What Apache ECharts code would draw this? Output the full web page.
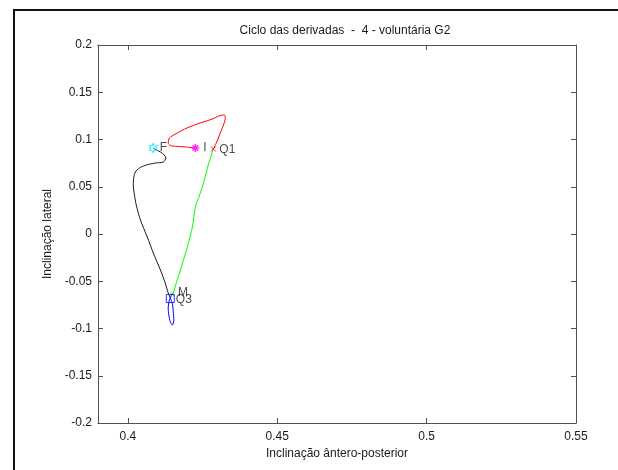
<!DOCTYPE html>
<html>
<head>
<meta charset="utf-8">
<script src="https://cdn.jsdelivr.net/npm/echarts@6/dist/echarts.min.js"></script>
<style>
  html, body { margin: 0; padding: 0; background: #fff; }
  #chart { width: 618px; height: 470px; }
</style>
</head>
<body>
<div id="chart"></div>
<script>
// Cycle segments (ântero-posterior, lateral)
const redPath = [
  [0.4226, 0.0910], [0.4192, 0.0921], [0.4160, 0.0928], [0.4143, 0.0935],
  [0.4135, 0.0963], [0.4139, 0.1016], [0.4159, 0.1058], [0.4198, 0.1122],
  [0.4242, 0.1175], [0.4283, 0.1217], [0.4309, 0.1254], [0.4323, 0.1259],
  [0.4326, 0.1228], [0.4320, 0.1153], [0.4309, 0.1069], [0.4299, 0.0984],
  [0.4286, 0.0899]
];
const greenPath = [
  [0.4286, 0.0899], [0.4269, 0.0730], [0.4253, 0.0540], [0.4239, 0.0402],
  [0.4226, 0.0286], [0.4216, 0.0074], [0.4199, -0.0138], [0.4186, -0.0275],
  [0.4176, -0.0381], [0.4162, -0.0519], [0.4152, -0.0624], [0.4149, -0.0635]
];
const bluePath = [
  [0.4149, -0.0635], [0.4145, -0.0656], [0.4139, -0.0698], [0.4135, -0.0783],
  [0.4137, -0.0857], [0.4142, -0.0931], [0.4149, -0.0963], [0.4154, -0.0910],
  [0.4152, -0.0825], [0.4149, -0.0741], [0.4142, -0.0677]
];
const blackPath = [
  [0.4142, -0.0677], [0.4135, -0.0624], [0.4125, -0.0519], [0.4109, -0.0381],
  [0.4085, -0.0201], [0.4065, -0.0032], [0.4042, 0.0148], [0.4028, 0.0307],
  [0.4022, 0.0413], [0.4018, 0.0519], [0.4020, 0.0603], [0.4025, 0.0656],
  [0.4038, 0.0698], [0.4062, 0.0730], [0.4092, 0.0751], [0.4119, 0.0762],
  [0.4127, 0.0804], [0.4122, 0.0836], [0.4109, 0.0868], [0.4095, 0.0889],
  [0.4085, 0.0910]
];

// Event points
const pointF  = [0.4085, 0.0910];
const pointI  = [0.4226, 0.0910];
const pointQ1 = [0.4286, 0.0899];
const pointM  = [0.4149, -0.0635];
const pointQ3 = [0.4142, -0.0683];

// Axis ticks
const xTicks = [0.4, 0.45, 0.5, 0.55];
const xMin = 0.39, xMax = 0.55;
const yMin = -0.2, yMax = 0.2, yStep = 0.05;

const FONT = 'Liberation Sans';
const TXT = '#1a1a1a';
const AX = '#505050';

const hexagram = 'path://M50 0L64.4 25L93.3 25L78.9 50L93.3 75L64.4 75L50 100L35.6 75L6.7 75L21.1 50L6.7 25L35.6 25Z';
const asterisk = 'path://M0 50L100 50M50 0L50 100M15 15L85 85M85 15L15 85';
const cross = 'path://M0 0L100 100M100 0L0 100';

function fmt(v) { return String(+v.toFixed(3)); }

function lineSeries(data, color) {
  return {
    type: 'line', data: data, showSymbol: false, smooth: 0.25,
    lineStyle: { color: color, width: 1 }, z: 2, animation: false
  };
}

function marker(pt, symbol, size, color, text, offset, bw) {
  return {
    type: 'scatter', data: [pt], symbol: symbol, symbolSize: size, symbolKeepAspect: true,
    itemStyle: { color: 'rgba(0,0,0,0)', borderColor: color, borderWidth: bw || 1 },
    label: {
      show: true, formatter: text, position: 'right', distance: 3,
      offset: offset || [0, 0],
      color: TXT, fontFamily: FONT, fontSize: 12
    },
    z: 5, animation: false
  };
}

const chart = echarts.init(document.getElementById('chart'), null, { renderer: 'canvas' });

const baseX = {
  type: 'value', min: xMin, max: xMax,
  axisLine: { show: true, onZero: false, lineStyle: { color: AX, width: 1 } },
  axisTick: { show: true, inside: true, length: 5, customValues: xTicks, lineStyle: { color: AX } },
  splitLine: { show: false }
};
const baseY = {
  type: 'value', min: yMin, max: yMax, interval: yStep,
  axisLine: { show: true, onZero: false, lineStyle: { color: AX, width: 1 } },
  axisTick: { show: true, inside: true, length: 5, lineStyle: { color: AX } },
  splitLine: { show: false }
};

chart.setOption({
  backgroundColor: '#fff',
  animation: false,
  title: {
    text: 'Ciclo das derivadas  -  4 - voluntária G2',
    left: 340, top: 20, textAlign: 'center',
    textStyle: { fontFamily: FONT, fontSize: 12, fontWeight: 'normal', color: TXT }
  },
  grid: { left: 98, right: 42, top: 45, bottom: 47 },
  xAxis: [
    Object.assign({}, baseX, {
      position: 'bottom',
      name: 'Inclinação ântero-posterior', nameLocation: 'middle', nameGap: 22,
      nameTextStyle: { fontFamily: FONT, fontSize: 12, color: TXT },
      axisLabel: { show: true, customValues: xTicks, formatter: fmt, margin: 8,
        fontFamily: FONT, fontSize: 12, color: TXT }
    }),
    Object.assign({}, baseX, { position: 'top', axisLabel: { show: false } })
  ],
  yAxis: [
    Object.assign({}, baseY, {
      position: 'left',
      name: 'Inclinação lateral', nameLocation: 'middle', nameGap: 44,
      nameTextStyle: { fontFamily: FONT, fontSize: 12, color: TXT },
      axisLabel: { show: true, formatter: fmt, margin: 6,
        fontFamily: FONT, fontSize: 12, color: TXT }
    }),
    Object.assign({}, baseY, { position: 'right', axisLabel: { show: false } })
  ],
  graphic: [
    { type: 'polyline', shape: { points: [[14, 470], [14, 10], [618, 10]] },
      style: { stroke: '#111', lineWidth: 2, fill: null }, silent: true }
  ],
  series: [
    lineSeries(redPath, '#ff0000'),
    lineSeries(greenPath, '#00ff00'),
    lineSeries(bluePath, '#0000ff'),
    lineSeries(blackPath, '#1a1a1a'),
    marker(pointF, hexagram, 9, '#00e5ff', 'F', [-1, 0], 1.2),
    marker(pointI, asterisk, 8, '#ff00ff', 'I', [0, 0], 1.6),
    marker(pointQ1, cross, 5, '#ff0000', 'Q1', [0, 1], 1),
    marker(pointM, cross, 4, '#00cc00', 'M', [0, -1], 1),
    marker(pointQ3, 'rect', 8, '#0000ff', 'Q3', [-2, 1], 1)
  ]
});
</script>
</body>
</html>
